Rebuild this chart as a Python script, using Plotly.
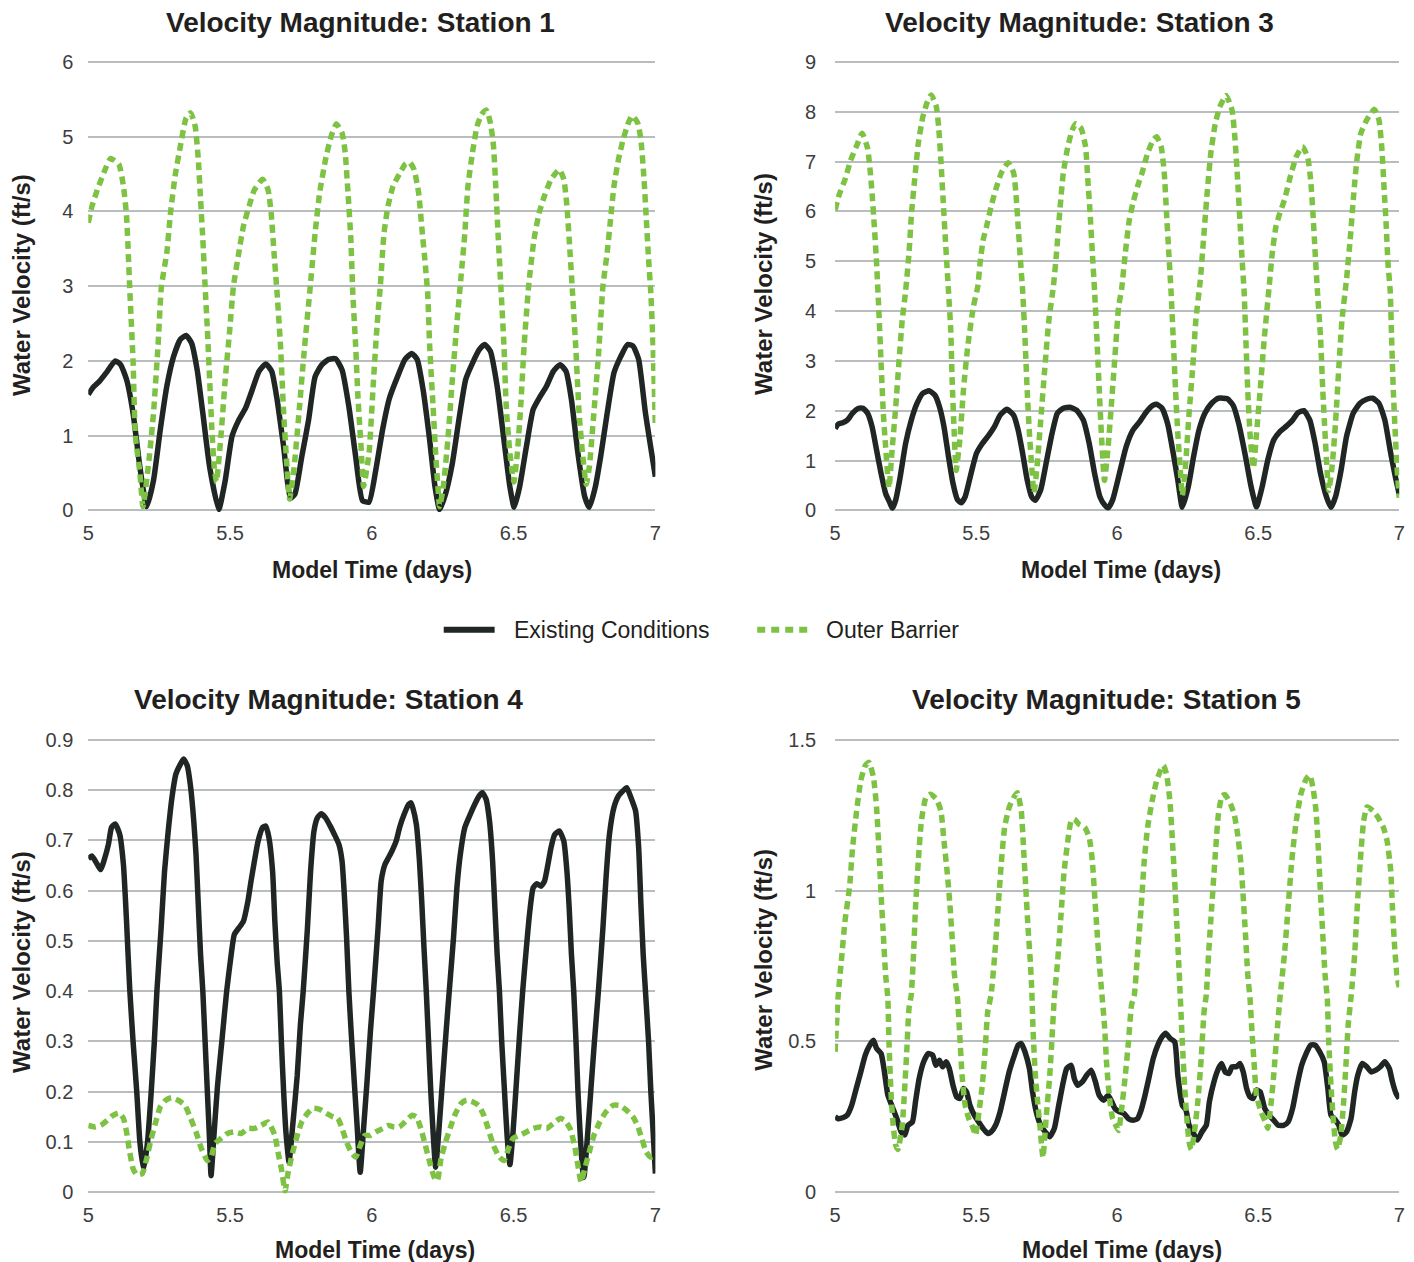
import plotly.graph_objects as go

# ---------------- data (model time in days, velocity in ft/s) ----------------
s1_exist_t = [5.000, 5.016, 5.040, 5.063, 5.095, 5.114, 5.135, 5.158, 5.182, 5.206, 5.230, 5.254, 5.277, 5.301,
              5.325, 5.345, 5.364, 5.384, 5.404, 5.428, 5.460, 5.483, 5.507, 5.531, 5.555, 5.578, 5.602, 5.626,
              5.647, 5.666, 5.689, 5.713, 5.729, 5.753, 5.777, 5.800, 5.824, 5.848, 5.872, 5.895, 5.919, 5.943,
              5.967, 5.990, 6.014, 6.038, 6.062, 6.094, 6.117, 6.141, 6.160, 6.181, 6.204, 6.223, 6.239, 6.260,
              6.284, 6.307, 6.331, 6.355, 6.379, 6.398, 6.418, 6.442, 6.466, 6.487, 6.502, 6.521, 6.545, 6.569,
              6.593, 6.616, 6.640, 6.664, 6.685, 6.704, 6.727, 6.751, 6.767, 6.788, 6.807, 6.830, 6.854, 6.878,
              6.902, 6.921, 6.941, 6.965, 7.000]
s1_exist_v = [1.55, 1.64, 1.73, 1.84, 2.00, 1.95, 1.75, 1.30, 0.58, 0.05, 0.40, 1.08, 1.66, 2.06,
              2.29, 2.34, 2.24, 1.88, 1.30, 0.58, 0.01, 0.40, 0.99, 1.21, 1.37, 1.61, 1.86, 1.96,
              1.86, 1.48, 0.85, 0.16, 0.22, 0.72, 1.21, 1.79, 1.95, 2.02, 2.03, 1.88, 1.39, 0.72,
              0.13, 0.11, 0.54, 1.08, 1.50, 1.82, 2.02, 2.10, 2.02, 1.61, 0.94, 0.31, 0.01, 0.22,
              0.63, 1.21, 1.75, 1.97, 2.15, 2.22, 2.13, 1.66, 0.94, 0.31, 0.04, 0.31, 0.85, 1.35,
              1.52, 1.66, 1.86, 1.95, 1.86, 1.48, 0.76, 0.18, 0.04, 0.31, 0.72, 1.30, 1.84, 2.06,
              2.22, 2.20, 2.02, 1.30, 0.45]

s1_barrier_t = [5.000, 5.013, 5.032, 5.055, 5.079, 5.108, 5.124, 5.135, 5.147, 5.158, 5.166, 5.182, 5.193,
                5.214, 5.230, 5.246, 5.258, 5.277, 5.290, 5.306, 5.325, 5.345, 5.361, 5.377, 5.388, 5.396,
                5.404, 5.412, 5.420, 5.428, 5.436, 5.444, 5.452, 5.468, 5.483, 5.499, 5.512, 5.531, 5.547,
                5.567, 5.586, 5.615, 5.634, 5.645, 5.655, 5.666, 5.678, 5.689, 5.700, 5.710, 5.726, 5.745,
                5.761, 5.783, 5.800, 5.816, 5.837, 5.856, 5.875, 5.895, 5.906, 5.916, 5.926, 5.933, 5.943,
                5.951, 5.962, 5.971, 5.990, 6.006, 6.019, 6.030, 6.043, 6.057, 6.075, 6.097, 6.117, 6.133,
                6.149, 6.165, 6.176, 6.189, 6.197, 6.204, 6.216, 6.225, 6.233, 6.239, 6.252, 6.268, 6.284,
                6.300, 6.314, 6.328, 6.339, 6.355, 6.371, 6.387, 6.403, 6.418, 6.429, 6.437, 6.445, 6.455,
                6.466, 6.474, 6.487, 6.501, 6.513, 6.525, 6.537, 6.553, 6.572, 6.590, 6.609, 6.632, 6.661,
                6.677, 6.688, 6.699, 6.708, 6.719, 6.731, 6.743, 6.756, 6.767, 6.783, 6.799, 6.815, 6.830,
                6.842, 6.854, 6.870, 6.886, 6.905, 6.918, 6.937, 6.949, 6.960, 6.968, 6.976, 6.984, 6.992,
                7.000]
s1_barrier_v = [3.85, 4.07, 4.29, 4.52, 4.71, 4.63, 4.34, 3.94, 2.90, 2.00, 1.00, 0.50, 0.05,
                0.67, 1.30, 2.20, 3.00, 3.45, 3.98, 4.47, 4.88, 5.25, 5.32, 5.14, 4.70, 4.16,
                3.63, 3.00, 2.42, 1.75, 1.08, 0.58, 0.38, 1.00, 1.75, 2.42, 3.00, 3.45, 3.80,
                4.07, 4.29, 4.43, 4.29, 3.98, 3.45, 2.90, 2.20, 1.30, 0.63, 0.15, 0.58, 1.39,
                2.11, 3.00, 3.71, 4.25, 4.70, 5.00, 5.17, 5.05, 4.79, 4.25, 3.63, 2.90, 2.20,
                1.52, 0.85, 0.32, 0.76, 1.75, 2.50, 3.00, 3.71, 4.07, 4.34, 4.50, 4.63, 4.66,
                4.56, 4.25, 3.80, 3.27, 2.90, 2.20, 1.39, 0.76, 0.31, 0.05, 0.31, 0.94, 1.75,
                2.50, 3.10, 3.71, 4.34, 4.79, 5.14, 5.30, 5.36, 5.19, 4.88, 4.34, 3.71, 3.00,
                2.20, 1.39, 0.76, 0.38, 0.76, 1.39, 2.20, 3.00, 3.63, 3.98, 4.21, 4.43, 4.56,
                4.43, 4.07, 3.45, 2.90, 2.20, 1.30, 0.76, 0.35, 0.58, 1.30, 2.06, 3.00, 3.45,
                3.90, 4.34, 4.70, 4.96, 5.19, 5.28, 5.19, 4.96, 4.43, 3.90, 3.36, 2.90, 2.20,
                1.10]

s3_exist_t = [5.000, 5.011, 5.027, 5.043, 5.062, 5.083, 5.099, 5.115, 5.131, 5.147, 5.163, 5.179, 5.195,
              5.203, 5.215, 5.231, 5.250, 5.270, 5.290, 5.311, 5.333, 5.354, 5.370, 5.386, 5.402, 5.418,
              5.434, 5.447, 5.461, 5.482, 5.501, 5.522, 5.545, 5.565, 5.585, 5.609, 5.633, 5.649, 5.665,
              5.681, 5.697, 5.710, 5.729, 5.748, 5.769, 5.788, 5.809, 5.833, 5.856, 5.880, 5.901, 5.920,
              5.939, 5.955, 5.968, 5.984, 6.008, 6.032, 6.056, 6.080, 6.104, 6.128, 6.140, 6.159, 6.179,
              6.199, 6.215, 6.231, 6.252, 6.271, 6.290, 6.311, 6.335, 6.359, 6.391, 6.411, 6.431, 6.455,
              6.475, 6.494, 6.514, 6.534, 6.555, 6.577, 6.598, 6.622, 6.641, 6.662, 6.683, 6.702, 6.721,
              6.742, 6.758, 6.774, 6.794, 6.813, 6.837, 6.861, 6.885, 6.906, 6.928, 6.949, 6.970, 6.986,
              7.000]
s3_exist_v = [1.64, 1.73, 1.76, 1.81, 1.95, 2.05, 2.05, 1.95, 1.68, 1.21, 0.74, 0.34, 0.14,
              0.04, 0.21, 0.68, 1.34, 1.81, 2.14, 2.35, 2.40, 2.31, 2.08, 1.68, 1.08, 0.54,
              0.21, 0.15, 0.27, 0.74, 1.14, 1.34, 1.51, 1.68, 1.91, 2.03, 1.91, 1.61, 1.14,
              0.61, 0.27, 0.20, 0.41, 0.94, 1.54, 1.95, 2.05, 2.07, 2.01, 1.81, 1.34, 0.74,
              0.27, 0.11, 0.05, 0.21, 0.74, 1.28, 1.61, 1.78, 1.98, 2.11, 2.13, 2.05, 1.74,
              1.14, 0.61, 0.06, 0.47, 1.08, 1.61, 1.95, 2.15, 2.25, 2.24, 2.11, 1.74, 1.08,
              0.47, 0.07, 0.47, 1.01, 1.41, 1.58, 1.68, 1.81, 1.96, 2.00, 1.81, 1.34, 0.74,
              0.27, 0.06, 0.27, 0.81, 1.48, 1.95, 2.15, 2.23, 2.25, 2.15, 1.81, 1.14, 0.68,
              0.32]

s3_barrier_t = [5.000, 5.014, 5.035, 5.056, 5.075, 5.096, 5.115, 5.123, 5.131, 5.139, 5.147, 5.155, 5.163,
                5.171, 5.179, 5.191, 5.203, 5.215, 5.226, 5.238, 5.250, 5.262, 5.271, 5.282, 5.295, 5.311,
                5.327, 5.341, 5.359, 5.367, 5.375, 5.383, 5.391, 5.402, 5.410, 5.415, 5.421, 5.429, 5.442,
                5.455, 5.470, 5.490, 5.506, 5.514, 5.525, 5.537, 5.553, 5.569, 5.589, 5.614, 5.633, 5.641,
                5.649, 5.657, 5.665, 5.673, 5.681, 5.689, 5.697, 5.705, 5.716, 5.729, 5.742, 5.758, 5.774,
                5.785, 5.796, 5.809, 5.825, 5.841, 5.853, 5.872, 5.888, 5.896, 5.904, 5.912, 5.920, 5.928,
                5.936, 5.944, 5.955, 5.968, 5.979, 5.992, 6.005, 6.016, 6.029, 6.043, 6.056, 6.072, 6.088,
                6.108, 6.128, 6.140, 6.156, 6.167, 6.175, 6.183, 6.191, 6.199, 6.207, 6.215, 6.223, 6.231,
                6.242, 6.255, 6.268, 6.279, 6.295, 6.306, 6.319, 6.332, 6.348, 6.364, 6.386, 6.407, 6.418,
                6.427, 6.435, 6.443, 6.450, 6.456, 6.463, 6.471, 6.483, 6.494, 6.507, 6.522, 6.539, 6.550,
                6.563, 6.577, 6.593, 6.614, 6.635, 6.657, 6.675, 6.686, 6.694, 6.702, 6.710, 6.721, 6.729,
                6.737, 6.750, 6.762, 6.774, 6.786, 6.797, 6.813, 6.826, 6.839, 6.850, 6.864, 6.885, 6.912,
                6.928, 6.938, 6.946, 6.954, 6.960, 6.968, 6.973, 6.979, 6.986, 6.992, 7.000]
s3_barrier_v = [6.03, 6.33, 6.64, 7.04, 7.30, 7.57, 7.27, 6.90, 6.37, 5.70, 4.97, 4.02, 2.95,
                1.95, 1.28, 0.45, 1.28, 2.08, 2.95, 3.82, 4.40, 5.17, 5.97, 6.64, 7.37, 7.90,
                8.20, 8.34, 8.10, 7.70, 7.04, 6.23, 5.43, 4.40, 3.62, 2.61, 1.74, 0.80, 1.41,
                2.41, 3.28, 4.08, 4.50, 4.97, 5.43, 5.70, 6.10, 6.43, 6.77, 6.98, 6.77, 6.37,
                5.70, 5.03, 4.40, 3.48, 2.41, 1.54, 0.88, 0.35, 0.88, 1.81, 2.75, 3.82, 4.50,
                5.17, 5.97, 6.77, 7.30, 7.64, 7.76, 7.67, 7.30, 6.64, 5.97, 5.17, 4.40, 3.48,
                2.48, 1.54, 0.60, 1.28, 2.08, 3.08, 4.08, 4.45, 5.17, 5.83, 6.17, 6.50, 6.77,
                7.17, 7.44, 7.50, 7.30, 6.77, 5.97, 5.17, 4.40, 3.42, 2.41, 1.54, 0.88, 0.30,
                0.88, 1.95, 2.88, 3.82, 4.63, 5.43, 6.37, 7.17, 7.77, 8.10, 8.33, 8.04, 7.44,
                6.64, 5.83, 5.03, 4.40, 3.48, 2.41, 1.54, 0.85, 1.54, 2.41, 3.48, 4.50, 5.17,
                5.70, 5.97, 6.23, 6.70, 7.10, 7.30, 7.10, 6.64, 5.97, 5.17, 4.40, 3.48, 2.41,
                1.54, 0.40, 0.88, 1.74, 2.88, 3.82, 4.63, 5.43, 6.37, 7.04, 7.57, 7.84, 8.05,
                7.84, 7.30, 6.50, 5.70, 4.97, 4.40, 3.48, 2.41, 1.54, 0.88, 0.25]

s4_exist_t = [5.000, 5.013, 5.032, 5.044, 5.055, 5.071, 5.082, 5.095, 5.111, 5.124, 5.135, 5.146, 5.158,
              5.171, 5.182, 5.195, 5.209, 5.222, 5.233, 5.242, 5.257, 5.269, 5.282, 5.295, 5.309, 5.325,
              5.336, 5.349, 5.361, 5.372, 5.380, 5.388, 5.396, 5.404, 5.412, 5.420, 5.428, 5.433, 5.444,
              5.456, 5.471, 5.488, 5.504, 5.515, 5.531, 5.547, 5.563, 5.574, 5.586, 5.599, 5.615, 5.626,
              5.637, 5.650, 5.658, 5.666, 5.674, 5.681, 5.689, 5.697, 5.708, 5.721, 5.737, 5.748, 5.758,
              5.773, 5.784, 5.796, 5.808, 5.821, 5.837, 5.853, 5.868, 5.884, 5.895, 5.903, 5.911, 5.919,
              5.927, 5.938, 5.948, 5.959, 5.970, 5.983, 5.995, 6.006, 6.022, 6.033, 6.046, 6.059, 6.071,
              6.086, 6.098, 6.114, 6.130, 6.138, 6.144, 6.157, 6.168, 6.176, 6.184, 6.192, 6.200, 6.208,
              6.216, 6.225, 6.236, 6.249, 6.262, 6.273, 6.288, 6.300, 6.312, 6.328, 6.347, 6.363, 6.379,
              6.390, 6.403, 6.415, 6.426, 6.434, 6.442, 6.450, 6.458, 6.468, 6.477, 6.487, 6.498, 6.510,
              6.521, 6.532, 6.545, 6.556, 6.569, 6.582, 6.596, 6.609, 6.621, 6.632, 6.645, 6.661, 6.677,
              6.688, 6.696, 6.704, 6.712, 6.720, 6.727, 6.735, 6.743, 6.748, 6.759, 6.772, 6.785, 6.799,
              6.815, 6.826, 6.838, 6.854, 6.870, 6.886, 6.899, 6.914, 6.930, 6.941, 6.949, 6.957, 6.965,
              6.976, 6.984, 6.992, 7.000]
s4_exist_v = [0.664, 0.669, 0.652, 0.642, 0.659, 0.692, 0.726, 0.733, 0.712, 0.652, 0.539, 0.406, 0.300,
              0.200, 0.100, 0.045, 0.100, 0.200, 0.300, 0.400, 0.526, 0.639, 0.719, 0.785, 0.832, 0.852,
              0.862, 0.849, 0.806, 0.739, 0.672, 0.572, 0.473, 0.400, 0.300, 0.200, 0.100, 0.033, 0.120,
              0.213, 0.300, 0.400, 0.473, 0.513, 0.526, 0.539, 0.579, 0.619, 0.659, 0.699, 0.726, 0.729,
              0.706, 0.639, 0.539, 0.459, 0.400, 0.300, 0.200, 0.120, 0.060, 0.133, 0.233, 0.333, 0.400,
              0.526, 0.639, 0.719, 0.745, 0.753, 0.745, 0.729, 0.712, 0.692, 0.659, 0.592, 0.506, 0.400,
              0.320, 0.220, 0.133, 0.040, 0.120, 0.220, 0.320, 0.400, 0.526, 0.619, 0.652, 0.666, 0.679,
              0.699, 0.726, 0.752, 0.772, 0.775, 0.766, 0.732, 0.659, 0.579, 0.486, 0.400, 0.300, 0.200,
              0.120, 0.050, 0.120, 0.220, 0.320, 0.400, 0.506, 0.606, 0.672, 0.726, 0.752, 0.772, 0.789,
              0.795, 0.782, 0.739, 0.659, 0.566, 0.473, 0.400, 0.300, 0.200, 0.113, 0.055, 0.120, 0.220,
              0.313, 0.400, 0.486, 0.553, 0.606, 0.614, 0.609, 0.619, 0.652, 0.686, 0.712, 0.719, 0.699,
              0.639, 0.566, 0.473, 0.400, 0.300, 0.200, 0.113, 0.047, 0.030, 0.100, 0.200, 0.300, 0.400,
              0.526, 0.626, 0.712, 0.766, 0.789, 0.799, 0.805, 0.785, 0.759, 0.686, 0.573, 0.473, 0.400,
              0.300, 0.200, 0.120, 0.037]

s4_barrier_t = [5.000, 5.024, 5.044, 5.067, 5.087, 5.108, 5.124, 5.135, 5.146, 5.158, 5.171, 5.190, 5.206,
                5.222, 5.238, 5.254, 5.273, 5.293, 5.317, 5.341, 5.361, 5.380, 5.399, 5.420, 5.433, 5.447,
                5.468, 5.491, 5.515, 5.539, 5.563, 5.586, 5.610, 5.634, 5.658, 5.669, 5.681, 5.694, 5.705,
                5.721, 5.737, 5.753, 5.773, 5.792, 5.816, 5.840, 5.864, 5.880, 5.895, 5.911, 5.927, 5.943,
                5.959, 5.975, 5.995, 6.014, 6.038, 6.059, 6.078, 6.097, 6.117, 6.141, 6.157, 6.173, 6.189,
                6.204, 6.220, 6.231, 6.244, 6.260, 6.276, 6.292, 6.315, 6.334, 6.355, 6.376, 6.395, 6.410,
                6.429, 6.450, 6.466, 6.482, 6.498, 6.521, 6.545, 6.569, 6.593, 6.616, 6.640, 6.664, 6.680,
                6.699, 6.715, 6.727, 6.738, 6.751, 6.767, 6.783, 6.804, 6.826, 6.851, 6.873, 6.899, 6.921,
                6.937, 6.952, 6.968, 6.984, 7.000]
s4_barrier_v = [0.133, 0.130, 0.133, 0.143, 0.153, 0.158, 0.147, 0.120, 0.080, 0.047, 0.035, 0.037, 0.067,
                0.107, 0.140, 0.170, 0.183, 0.188, 0.183, 0.173, 0.147, 0.120, 0.087, 0.063, 0.070, 0.097,
                0.107, 0.117, 0.120, 0.117, 0.127, 0.127, 0.133, 0.140, 0.113, 0.080, 0.047, 0.003, 0.040,
                0.080, 0.113, 0.140, 0.157, 0.167, 0.165, 0.157, 0.150, 0.147, 0.127, 0.100, 0.080, 0.070,
                0.093, 0.113, 0.113, 0.120, 0.127, 0.133, 0.130, 0.130, 0.140, 0.153, 0.150, 0.127, 0.093,
                0.060, 0.030, 0.023, 0.067, 0.100, 0.127, 0.153, 0.177, 0.183, 0.180, 0.173, 0.153, 0.127,
                0.093, 0.070, 0.063, 0.087, 0.107, 0.113, 0.120, 0.127, 0.130, 0.127, 0.137, 0.147, 0.143,
                0.127, 0.093, 0.053, 0.020, 0.047, 0.080, 0.113, 0.140, 0.160, 0.173, 0.173, 0.163, 0.150,
                0.133, 0.107, 0.080, 0.070, 0.073]

s5_exist_t = [5.000, 5.011, 5.027, 5.043, 5.059, 5.075, 5.091, 5.107, 5.123, 5.136, 5.147, 5.163, 5.175,
              5.187, 5.203, 5.219, 5.234, 5.247, 5.258, 5.274, 5.285, 5.298, 5.314, 5.330, 5.346, 5.357,
              5.370, 5.381, 5.394, 5.405, 5.418, 5.431, 5.442, 5.455, 5.466, 5.478, 5.493, 5.509, 5.525,
              5.541, 5.553, 5.569, 5.585, 5.601, 5.617, 5.636, 5.649, 5.660, 5.673, 5.689, 5.700, 5.713,
              5.729, 5.745, 5.761, 5.777, 5.793, 5.809, 5.821, 5.837, 5.848, 5.860, 5.876, 5.892, 5.908,
              5.923, 5.936, 5.952, 5.968, 5.981, 5.992, 6.008, 6.024, 6.040, 6.056, 6.072, 6.083, 6.096,
              6.112, 6.128, 6.144, 6.159, 6.172, 6.188, 6.204, 6.215, 6.231, 6.244, 6.255, 6.268, 6.284,
              6.300, 6.316, 6.327, 6.343, 6.359, 6.370, 6.383, 6.396, 6.407, 6.423, 6.435, 6.447, 6.459,
              6.471, 6.482, 6.494, 6.507, 6.523, 6.539, 6.555, 6.571, 6.590, 6.606, 6.622, 6.638, 6.654,
              6.670, 6.686, 6.702, 6.718, 6.734, 6.747, 6.758, 6.774, 6.786, 6.797, 6.813, 6.829, 6.842,
              6.853, 6.869, 6.885, 6.901, 6.917, 6.933, 6.949, 6.965, 6.976, 6.989, 7.000]
s5_exist_v = [0.250, 0.244, 0.247, 0.256, 0.289, 0.344, 0.399, 0.455, 0.488, 0.504, 0.477, 0.460, 0.399,
              0.322, 0.283, 0.244, 0.200, 0.190, 0.222, 0.233, 0.300, 0.377, 0.433, 0.460, 0.455, 0.421,
              0.438, 0.416, 0.433, 0.410, 0.355, 0.316, 0.311, 0.344, 0.333, 0.289, 0.256, 0.233, 0.211,
              0.195, 0.200, 0.222, 0.267, 0.333, 0.399, 0.455, 0.488, 0.493, 0.466, 0.410, 0.333, 0.267,
              0.222, 0.200, 0.184, 0.211, 0.289, 0.366, 0.410, 0.421, 0.377, 0.355, 0.366, 0.388, 0.405,
              0.366, 0.322, 0.305, 0.322, 0.300, 0.278, 0.267, 0.261, 0.244, 0.239, 0.244, 0.267, 0.311,
              0.377, 0.444, 0.488, 0.515, 0.527, 0.510, 0.499, 0.388, 0.289, 0.272, 0.222, 0.200, 0.173,
              0.200, 0.222, 0.300, 0.366, 0.410, 0.427, 0.399, 0.394, 0.416, 0.416, 0.427, 0.399, 0.344,
              0.316, 0.311, 0.339, 0.333, 0.278, 0.256, 0.239, 0.222, 0.222, 0.233, 0.278, 0.355, 0.421,
              0.460, 0.488, 0.488, 0.466, 0.433, 0.344, 0.256, 0.239, 0.222, 0.189, 0.200, 0.244, 0.333,
              0.388, 0.427, 0.416, 0.399, 0.405, 0.416, 0.433, 0.410, 0.366, 0.327, 0.311]

s5_barrier_t = [5.000, 5.011, 5.022, 5.035, 5.051, 5.062, 5.075, 5.091, 5.107, 5.120, 5.136, 5.147, 5.155,
                5.163, 5.171, 5.179, 5.187, 5.191, 5.198, 5.206, 5.215, 5.223, 5.238, 5.246, 5.254, 5.262,
                5.270, 5.278, 5.285, 5.295, 5.306, 5.322, 5.338, 5.359, 5.375, 5.386, 5.397, 5.407, 5.415,
                5.423, 5.434, 5.442, 5.450, 5.461, 5.474, 5.490, 5.498, 5.510, 5.522, 5.533, 5.541, 5.553,
                5.566, 5.577, 5.589, 5.601, 5.617, 5.633, 5.646, 5.660, 5.668, 5.676, 5.684, 5.692, 5.697,
                5.702, 5.710, 5.718, 5.726, 5.732, 5.737, 5.748, 5.761, 5.769, 5.777, 5.789, 5.801, 5.812,
                5.825, 5.837, 5.848, 5.864, 5.885, 5.901, 5.912, 5.920, 5.928, 5.936, 5.944, 5.955, 5.963,
                5.973, 5.984, 5.995, 6.005, 6.016, 6.029, 6.040, 6.051, 6.061, 6.072, 6.085, 6.096, 6.108,
                6.124, 6.140, 6.156, 6.164, 6.175, 6.187, 6.196, 6.204, 6.211, 6.218, 6.223, 6.231, 6.239,
                6.247, 6.255, 6.263, 6.274, 6.287, 6.298, 6.308, 6.316, 6.324, 6.335, 6.348, 6.359, 6.372,
                6.383, 6.402, 6.415, 6.427, 6.439, 6.447, 6.455, 6.463, 6.471, 6.478, 6.486, 6.494, 6.510,
                6.526, 6.534, 6.545, 6.555, 6.566, 6.577, 6.593, 6.606, 6.619, 6.635, 6.651, 6.670, 6.683,
                6.694, 6.705, 6.713, 6.721, 6.729, 6.737, 6.745, 6.750, 6.758, 6.766, 6.774, 6.782, 6.793,
                6.803, 6.811, 6.819, 6.830, 6.842, 6.851, 6.862, 6.874, 6.886, 6.907, 6.925, 6.944, 6.957,
                6.970, 6.976, 6.984, 6.992, 7.000]
s5_barrier_v = [0.466, 0.655, 0.766, 0.899, 1.010, 1.143, 1.254, 1.365, 1.415, 1.426, 1.376, 1.276, 1.143,
                0.988, 0.855, 0.722, 0.643, 0.499, 0.333, 0.222, 0.156, 0.142, 0.222, 0.333, 0.466, 0.610,
                0.655, 0.788, 0.943, 1.099, 1.232, 1.309, 1.320, 1.304, 1.265, 1.165, 1.065, 0.955, 0.844,
                0.722, 0.643, 0.521, 0.388, 0.289, 0.244, 0.211, 0.189, 0.267, 0.355, 0.488, 0.598, 0.655,
                0.788, 0.932, 1.088, 1.210, 1.276, 1.309, 1.325, 1.265, 1.143, 1.010, 0.877, 0.766, 0.677,
                0.532, 0.388, 0.300, 0.222, 0.156, 0.115, 0.244, 0.388, 0.510, 0.643, 0.766, 0.921, 1.065,
                1.165, 1.232, 1.237, 1.221, 1.210, 1.176, 1.099, 0.988, 0.877, 0.766, 0.677, 0.554, 0.421,
                0.311, 0.244, 0.222, 0.205, 0.278, 0.388, 0.499, 0.621, 0.655, 0.788, 0.943, 1.099, 1.210,
                1.298, 1.365, 1.404, 1.415, 1.387, 1.298, 1.165, 1.032, 0.899, 0.766, 0.665, 0.499, 0.355,
                0.244, 0.167, 0.142, 0.200, 0.311, 0.444, 0.598, 0.655, 0.788, 0.943, 1.121, 1.254, 1.315,
                1.318, 1.287, 1.254, 1.187, 1.088, 0.977, 0.855, 0.722, 0.643, 0.532, 0.421, 0.321, 0.267,
                0.233, 0.212, 0.289, 0.388, 0.521, 0.643, 0.788, 0.943, 1.099, 1.232, 1.320, 1.370, 1.383,
                1.343, 1.265, 1.143, 0.988, 0.855, 0.722, 0.643, 0.499, 0.355, 0.244, 0.167, 0.143, 0.189,
                0.300, 0.421, 0.554, 0.655, 0.788, 0.943, 1.099, 1.232, 1.278, 1.265, 1.243, 1.210, 1.165,
                1.065, 0.943, 0.810, 0.720, 0.680]

panel_titles = ["Velocity Magnitude: Station 1", "Velocity Magnitude: Station 3",
                "Velocity Magnitude: Station 4", "Velocity Magnitude: Station 5"]
series_names = ["Existing Conditions", "Outer Barrier"]
x_ticks = [5, 5.5, 6, 6.5, 7]
x_tick_text = ["5", "5.5", "6", "6.5", "7"]
y_ranges = [[0, 6], [0, 9], [0, 0.9], [0, 1.5]]
y_dticks = [1, 1, 0.1, 0.5]
x_title = "Model Time (days)"
y_title = "Water Velocity (ft/s)"

# ---------------- styling ----------------
# The page shows the figure slightly offset and scaled; layout positions below are given
# in on-screen pixels and converted to figure pixels with this affine map.
OX, OY = 4.6, 10.1
SX, SY = 0.9931, 0.9831
W, H = 1420, 1276
BLACK = "#202624"
GREEN = "#7dc243"
GRID = "#b9bdc0"
TEXT = "#231f20"
TICK = "#3d3d3d"
BOLD = "Liberation Sans, Arial, sans-serif"
REG = "Liberation Sans, Arial, sans-serif"


def px_x(p):
    """screen pixel column -> paper x"""
    return ((p - OX) / SX) / W


def px_y(p):
    """screen pixel row -> paper y"""
    return 1 - ((p - OY) / SY) / H


# plot-area boxes in screen pixels: (left, right, top, bottom)
boxes = [(87, 655, 63, 510), (835, 1400, 63, 510), (87, 655, 739, 1190), (835, 1400, 739, 1190)]
ylabel_pad = [10, 14, 10, 14]
EDGE = 2  # extra pixels above/below each value range so the end grid lines are drawn

series = [
    (s1_exist_t, s1_exist_v, s1_barrier_t, s1_barrier_v),
    (s3_exist_t, s3_exist_v, s3_barrier_t, s3_barrier_v),
    (s4_exist_t, s4_exist_v, s4_barrier_t, s4_barrier_v),
    (s5_exist_t, s5_exist_v, s5_barrier_t, s5_barrier_v),
]

fig = go.Figure()
layout = dict(
    width=W, height=H, margin=dict(l=0, r=0, t=0, b=0),
    paper_bgcolor="white", plot_bgcolor="white", showlegend=False,
    annotations=[], shapes=[],
)

for i, ((et, ev, bt, bv), (l, r, t, b)) in enumerate(zip(series, boxes)):
    n = "" if i == 0 else str(i + 1)
    xa, ya = "x" + n, "y" + n
    lo, hi = y_ranges[i]
    per_px = (hi - lo) / (b - t)
    fig.add_trace(go.Scatter(
        x=et, y=ev, xaxis=xa, yaxis=ya, mode="lines", name=series_names[0],
        line=dict(color=BLACK, width=5.5, shape="spline", smoothing=0.5),
    ))
    fig.add_trace(go.Scatter(
        x=bt, y=bv, xaxis=xa, yaxis=ya, mode="lines", name=series_names[1],
        line=dict(color=GREEN, width=5.5, dash="8px,5px", shape="spline", smoothing=0.5),
    ))
    layout["xaxis" + n] = dict(
        domain=[px_x(l), px_x(r)], anchor=ya, range=[5, 7],
        tickvals=x_ticks, ticktext=x_tick_text, showgrid=False, zeroline=False,
        showline=False, ticks="outside", ticklen=3, tickcolor="rgba(0,0,0,0)",
        tickfont=dict(family=REG, size=20, color=TICK),
    )
    layout["yaxis" + n] = dict(
        domain=[px_y(b + EDGE), px_y(t - EDGE)], anchor=xa,
        range=[lo - EDGE * per_px, hi + EDGE * per_px], tick0=0, dtick=y_dticks[i],
        showgrid=True, gridcolor=GRID, gridwidth=1.5, zeroline=False, showline=False,
        ticks="outside", ticklen=ylabel_pad[i], tickcolor="rgba(0,0,0,0)",
        tickfont=dict(family=REG, size=20, color=TICK),
    )

# panel titles and axis titles (screen pixel centres)
title_pos = [(360, 24), (1080, 24), (328, 699), (1107, 699)]
xt_pos = [(371, 570), (1121, 570), (374, 1248), (1122, 1248)]
yt_pos = [(20, 285), (763, 284), (20, 960), (763, 958)]
for i in range(4):
    layout["annotations"].append(dict(
        text="<b>%s</b>" % panel_titles[i], x=px_x(title_pos[i][0]), y=px_y(title_pos[i][1]),
        xref="paper", yref="paper", showarrow=False, xanchor="center", yanchor="middle",
        font=dict(family=BOLD, size=28, color=TEXT),
    ))
    layout["annotations"].append(dict(
        text="<b>%s</b>" % x_title, x=px_x(xt_pos[i][0]), y=px_y(xt_pos[i][1]),
        xref="paper", yref="paper", showarrow=False, xanchor="center", yanchor="middle",
        font=dict(family=BOLD, size=23, color=TEXT),
    ))
    layout["annotations"].append(dict(
        text="<b>%s</b>" % y_title, x=px_x(yt_pos[i][0]), y=px_y(yt_pos[i][1]),
        xref="paper", yref="paper", showarrow=False, xanchor="center", yanchor="middle",
        textangle=-90, font=dict(family=BOLD, size=24, color=TEXT),
    ))

# shared legend between the two rows
leg_y = px_y(629)
layout["shapes"].append(dict(type="line", xref="paper", yref="paper",
                             x0=px_x(443), x1=px_x(494), y0=leg_y, y1=leg_y,
                             line=dict(color=BLACK, width=6)))
layout["shapes"].append(dict(type="line", xref="paper", yref="paper",
                             x0=px_x(757), x1=px_x(808), y0=leg_y, y1=leg_y,
                             line=dict(color=GREEN, width=6, dash="8px,6px")))
for label, xpx in zip(series_names, [511, 824]):
    layout["annotations"].append(dict(
        text=label, x=px_x(xpx), y=leg_y, xref="paper", yref="paper", showarrow=False,
        xanchor="left", yanchor="middle", font=dict(family=REG, size=23, color=TEXT),
    ))

fig.update_layout(**layout)
fig.write_html("out.html")
